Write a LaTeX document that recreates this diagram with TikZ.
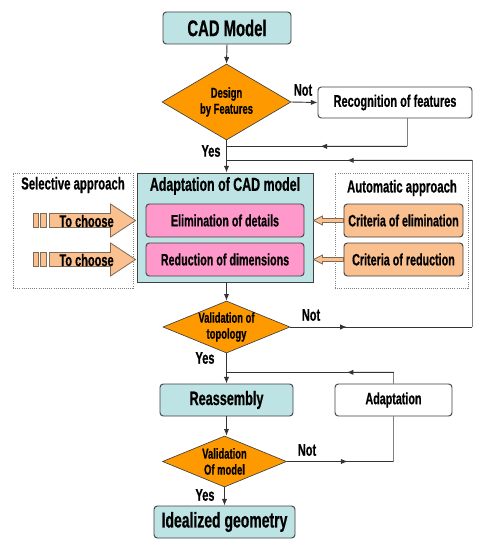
\documentclass[tikz,border=0pt]{standalone}
\usepackage{fontspec}
\setmainfont{Liberation Sans}[FakeStretch=0.655, BoldFeatures={FakeBold=0.6}]
\usetikzlibrary{shapes.geometric,arrows.meta,calc}
\definecolor{cadcyan}{HTML}{BDE3E4}
\definecolor{decor}{HTML}{FF9900}
\definecolor{pinkbox}{HTML}{FF99CC}
\definecolor{peach}{HTML}{FAC090}
\definecolor{edgegray}{HTML}{404040}
\definecolor{peachedge}{HTML}{7F6A55}
\tikzset{
  base/.style={draw=edgegray, line width=0.7pt, rounded corners=2.5pt, align=center, inner sep=0pt},
  cyanbox/.style={base, fill=cadcyan},
  whitebox/.style={base, fill=white},
  pinkb/.style={base, fill=pinkbox},
  peachb/.style={base, fill=peach},
  decision/.style={diamond, draw=edgegray, line width=0.5pt, fill=decor, inner sep=0pt},
  dtext/.style={align=center, font=\bfseries\fontsize{10.8}{12}\selectfont},
  group/.style={draw=gray, densely dotted, line width=0.6pt},
  conn/.style={draw=black!80, line width=0.7pt},
  fbconn/.style={draw=gray, line width=0.7pt},
  arr/.style={conn, -{Latex[length=5pt,width=4pt]}},
  lbl/.style={font=\bfseries\fontsize{12.6}{14}\selectfont},
  blockarr/.style={draw=peachedge, fill=peach, line width=0.6pt},
}
\begin{document}
\begin{tikzpicture}[x=0.75pt,y=-0.75pt]
\useasboundingbox (0,0) rectangle (487,549);

% groups
\node[group, minimum width=90pt, minimum height=86.25pt, inner sep=0pt] (sel) at (73,230.5) {};
\node[font=\bfseries\fontsize{13}{15}\selectfont] (seltitle) at (73,185) {Selective approach};
\node[group, minimum width=99.75pt, minimum height=86.25pt, inner sep=0pt] (auto) at (401.5,230.5) {};
\node[font=\bfseries\fontsize{13}{15}\selectfont] (autotitle) at (402,188) {Automatic approach};

% main boxes
\node[cyanbox, minimum width=96pt, minimum height=24pt, font=\bfseries\fontsize{17}{20}\selectfont] (cad) at (227,28) {CAD Model};
\node[decision, minimum width=96.75pt, minimum height=57pt] (d1) at (226.5,102) {};
\node[dtext] (d1t) at (d1.center) {Design\\by Features};
\node[whitebox, minimum width=115.5pt, minimum height=23.25pt, font=\bfseries\fontsize{12.6}{15}\selectfont] (rec) at (395,102.5) {Recognition of features};

\node[cyanbox, rounded corners=0pt, minimum width=132pt, minimum height=81.75pt] (adapt) at (225,227.5) {};
\node[font=\bfseries\fontsize{14.2}{16}\selectfont] (adtitle) at (225,186) {Adaptation of CAD model};
\node[pinkb, minimum width=118.5pt, minimum height=24.75pt, font=\bfseries\fontsize{12.3}{14}\selectfont] (elim) at (225,220.5) {Elimination of details};
\node[pinkb, minimum width=118.5pt, minimum height=24.75pt, font=\bfseries\fontsize{12.3}{14}\selectfont] (red) at (225,259.5) {Reduction of dimensions};

\node[peachb, minimum width=89.25pt, minimum height=24.75pt, font=\bfseries\fontsize{12.3}{14}\selectfont] (celim) at (403.5,220.5) {Criteria of elimination};
\node[peachb, minimum width=89.25pt, minimum height=24.75pt, font=\bfseries\fontsize{12.3}{14}\selectfont] (cred) at (403.5,259.5) {Criteria of reduction};

\node[decision, minimum width=95.25pt, minimum height=39pt] (d2) at (226.5,327) {};
\node[dtext] (d2t) at (d2.center) {Validation of\\topology};
\node[cyanbox, minimum width=99.75pt, minimum height=24pt, font=\bfseries\fontsize{14.5}{17}\selectfont] (reass) at (226.5,400) {Reassembly};
\node[whitebox, minimum width=87.75pt, minimum height=24pt, font=\bfseries\fontsize{12.3}{14}\selectfont] (adw) at (393.5,400) {Adaptation};
\node[decision, minimum width=93pt, minimum height=38.25pt] (d3) at (224.5,461.5) {};
\node[dtext] (d3t) at (d3.center) {Validation\\Of model};
\node[cyanbox, minimum width=105.75pt, minimum height=24pt, font=\bfseries\fontsize{16}{19}\selectfont] (ideal) at (224.5,522) {Idealized geometry};

% block arrows (selective approach)
\foreach \tgt/\nm in {elim/ta, red/tb}{
  \path (adapt.west |- \tgt.west) ++(-1,0) coordinate (\nm);
  \draw[blockarr] ($(\nm)+(-86,-7)$) -- ($(\nm)+(-25,-7)$) -- ($(\nm)+(-25,-16.5)$) -- (\nm)
     -- ($(\nm)+(-25,16.5)$) -- ($(\nm)+(-25,7)$) -- ($(\nm)+(-86,7)$) -- cycle;
  \draw[blockarr] ($(\nm)+(-102,-7)$) rectangle ($(\nm)+(-97,7)$);
  \draw[blockarr] ($(\nm)+(-95,-7)$) rectangle ($(\nm)+(-89,7)$);
  \node[font=\bfseries\fontsize{12.6}{14}\selectfont] (\nm lbl) at ($(\nm)+(-49,0.5)$) {To choose};
}

% hollow arrows (automatic approach)
\foreach \src/\nm in {celim/ha, cred/hb}{
  \path (\src.west) coordinate (\nm s) (adapt.east |- \src.west) coordinate (\nm t);
  \draw[blockarr] ($(\nm s)+(0,-2)$) -- ($(\nm t)+(9,-2)$) -- ($(\nm t)+(9,-4.5)$) -- (\nm t)
     -- ($(\nm t)+(9,4.5)$) -- ($(\nm t)+(9,2)$) -- ($(\nm s)+(0,2)$) -- cycle;
}

% connectors
\draw[arr] (cad.south) -- (d1.north);
\draw[arr] (d1.east) -- (rec.west);
\node[lbl] (not1) at (303,90) {Not};

\path (d1.south) ++(0,6) coordinate (j1);
\path (d1.south) ++(0,20) coordinate (j2);
\path ([xshift=9pt]rec.south) coordinate (r1);
\draw[fbconn] (r1) -- (r1 |- j1);
\draw[conn] (r1 |- j1) -- (j1);
\coordinate (m1) at ($(r1 |- j1)!0.48!(j1)$);
\draw[arr] (r1 |- j1) -- (m1);

\draw[arr] (d1.south) -- (d1.south |- adapt.north);
\node[lbl] (yes1) at (211,151) {Yes};

\draw[arr] (d1.south |- adapt.south) -- (d2.north);

\coordinate (c2) at (rec.east |- d2.east);
\coordinate (c3) at (rec.east |- j2);
\draw[conn] (d2.east) -- (c2);
\draw[fbconn] (c2) -- (c3);
\draw[conn] (c3) -- (j2);
\coordinate (m2) at ($(d2.east)!0.31!(c2)$);
\draw[arr] (d2.east) -- (m2);
\coordinate (m2b) at ($(c3)!0.51!(j2)$);
\draw[arr] (c3) -- (m2b);
\node[lbl] (not2) at (311,315) {Not};

\draw[arr] (d2.south) -- (d2.south |- reass.north);
\node[lbl] (yes2) at (205,358) {Yes};
\path (d2.south) ++(0,19) coordinate (j3);
\draw[fbconn] (adw.north) -- (adw.north |- j3);
\draw[conn] (adw.north |- j3) -- (j3);
\coordinate (m3) at ($(adw.north |- j3)!0.28!(j3)$);
\draw[arr] (adw.north |- j3) -- (m3);

\draw[arr] (reass.south) -- (reass.south |- d3.north);
\coordinate (c4) at (adw.south |- d3.east);
\draw[conn] (d3.east) -- (c4);
\draw[fbconn] (c4) -- (adw.south);
\coordinate (m4) at ($(d3.east)!0.57!(c4)$);
\draw[arr] (d3.east) -- (m4);
\node[lbl] (not3) at (307,450) {Not};

\draw[arr] (d3.south) -- (ideal.north);
\node[lbl] (yes3) at (205,495) {Yes};
\end{tikzpicture}
\end{document}
